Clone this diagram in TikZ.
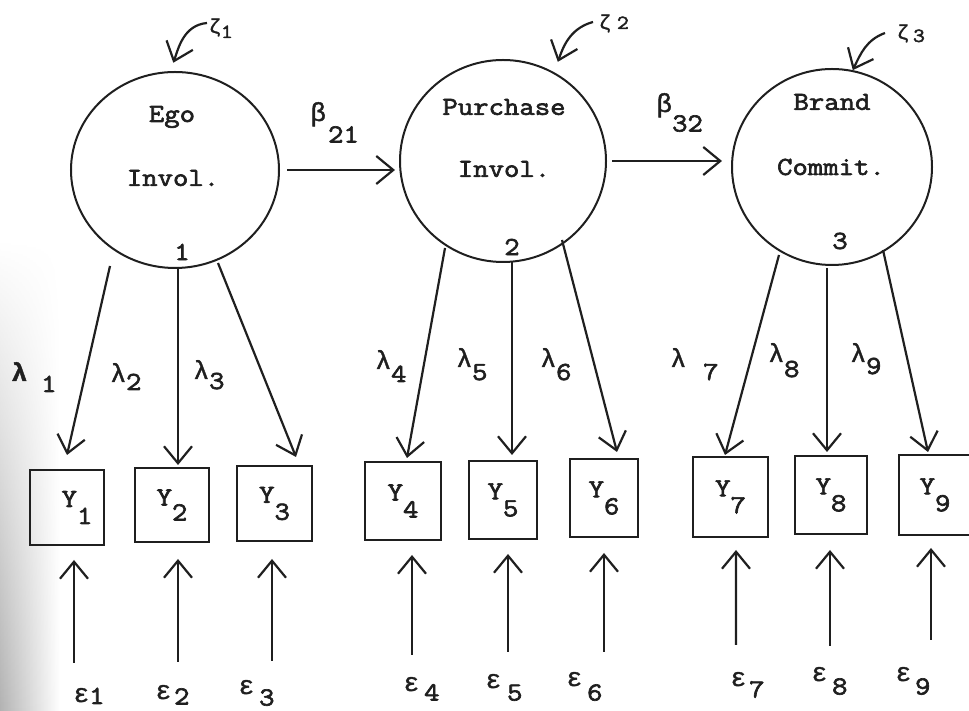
\documentclass[tikz,border=0pt]{standalone}
\usepackage{fontspec}
\setmainfont{Latin Modern Mono}[FakeStretch=1.15, FakeBold=2.5]
\newfontfamily\greekfont{Liberation Mono}[FakeBold=1.5]
\usetikzlibrary{arrows.meta,calc,shapes.geometric,fadings}
\newcommand\subdrop[2]{\raisebox{-#1bp}{#2}}
\newcommand\glam{{\greekfont λ}}
\newcommand\geps{{\greekfont ε}}
\newcommand\gbet{{\greekfont β}}
\newcommand\gzet{{\greekfont ζ}}
\begin{document}
\begin{tikzpicture}[x=1bp,y=1bp,
  every node/.style={inner sep=0pt, outer sep=0pt, text=black!88,
    font=\fontsize{26bp}{30bp}\selectfont},
  latent/.style={ellipse, draw=black!88, line width=2bp},
  manifest/.style={rectangle, draw=black!88, line width=2.4bp},
  arr/.style={draw=black!88, line width=2.2bp,
    -{Straight Barb[length=17bp,width=28bp]}},
  lbl/.style={anchor=base west},
  small/.style={anchor=base west, font=\fontsize{20bp}{24bp}\selectfont},
]
\useasboundingbox (0,0) rectangle (969,711);

% scanner shadow along the left margin
\shade[left color=black!30, right color=white, path fading=north]
  (0,0) rectangle (60,470);

% latent variables
\node[latent, minimum width=208bp, minimum height=196bp] (c1) at (175,541) {};
\node[latent, minimum width=206bp, minimum height=202bp] (c2) at (503,550) {};
\node[latent, minimum width=200bp, minimum height=196bp] (c3) at (832,544) {};

\node (ego)  at (172,594) {Ego};
\node (inv1) at (173,533) {Invol.};
\node (n1)   at (182,459) {1};
\node (pur)  at (504,604) {Purchase};
\node (inv2) at (504,542) {Invol.};
\node (n2)   at (512,464) {2};
\node (bra)  at (832,609) {Brand};
\node (com)  at (831,544) {Commit.};
\node (n3)   at (840,470) {3};

% indicators
\node[manifest, minimum width=74bp, minimum height=75bp] (y1) at (67,203.5) {\hspace*{20bp}Y\subdrop{17}{1}};
\node[manifest, minimum width=74bp, minimum height=74bp] (y2) at (172,206) {Y\subdrop{15}{2}};
\node[manifest, minimum width=75bp, minimum height=75bp] (y3) at (274.5,207.5) {Y\subdrop{17}{3}};
\node[manifest, minimum width=76bp, minimum height=78bp] (y4) at (403,210) {Y\subdrop{17}{4}};
\node[manifest, minimum width=68bp, minimum height=78bp] (y5) at (503,211) {Y\subdrop{17}{5}};
\node[manifest, minimum width=68bp, minimum height=78bp] (y6) at (604,213) {Y\subdrop{17}{6}};
\node[manifest, minimum width=75bp, minimum height=80bp] (y7) at (730.5,214) {Y\subdrop{17}{7}};
\node[manifest, minimum width=72bp, minimum height=78bp] (y8) at (831,216) {Y\subdrop{17}{8}};
\node[manifest, minimum width=72bp, minimum height=80bp] (y9) at (935,216) {Y\subdrop{17}{9}};

% disturbances
\coordinate (z1) at (207,688);
\coordinate (z2) at (593,689);
\coordinate (z3) at (885,678);
\draw[arr, shorten >=10bp] (z1) to[out=185,in=70] (c1.93);
\draw[arr, shorten >=12bp] (z2) to[out=195,in=70] (c2.60);
\draw[arr, shorten >=1bp]  (z3) to[out=200,in=65] (c3.78);
\node[small] (zl1) at (209,678) {\gzet\subdrop{5}{1}};
\node[small] (zl2) at (599,682) {\gzet\kern6bp 2};
\node[small] (zl3) at (897,672) {\gzet\kern4bp\subdrop{3}{3}};

% structural paths
\draw[arr, shorten <=8bp, shorten >=5bp] (c1.east) -- (c1.east -| c2.west);
\draw[arr, shorten <=6bp, shorten >=10bp] (c2.east) -- (c2.east -| c3.west);
\node[lbl] (b21) at (310.5,590) {\gbet\kern2bp\subdrop{21.5}{21}};
\node[lbl] (b32) at (656.5,599) {\gbet\subdrop{19.5}{32}};

% loadings
\draw[arr] ($(c1)+(-65,-96)$) -- ($(y1.north)+(0,15)$);
\draw[arr] ($(c1)+(3,-97)$)   -- ($(y2.north)+(6,3)$);
\draw[arr] ($(c1)+(43,-93)$)  -- ($(y3.north)+(21.5,9)$);
\draw[arr] ($(c2)+(-58,-87)$) -- ($(y4.north)+(4,4)$);
\draw[arr] ($(c2)+(9,-101)$)  -- ($(y5.north)+(9,6)$);
\draw[arr] ($(c2)+(59,-79)$)  -- ($(y6.north)+(13,7)$);
\draw[arr] ($(c3)+(-53,-88)$) -- ($(y7.north)+(-5.5,2)$);
\draw[arr] ($(c3)+(-5,-101)$) -- ($(y8.north)+(-4,4)$);
\draw[arr] ($(c3)+(51,-83)$)  -- ($(y9.north)+(-7,3)$);

\node[lbl] (l1) at (11.5,330)  {{\greekfont\bfseries λ}\kern14bp\subdrop{11}{1}};
\node[lbl] (l2) at (110.5,329) {\glam\subdrop{8}{2}};
\node[lbl] (l3) at (193.5,332) {\glam\subdrop{10}{3}};
\node[lbl] (l4) at (375.5,342) {\glam\subdrop{13}{4}};
\node[lbl] (l5) at (456.5,344) {\glam\subdrop{13}{5}};
\node[lbl] (l6) at (540.5,344) {\glam\subdrop{13}{6}};
\node[lbl] (l7) at (670.5,344) {\glam\kern17bp\subdrop{13}{7}};
\node[lbl] (l8) at (768.5,349) {\glam\subdrop{15}{8}};
\node[lbl] (l9) at (850.5,349) {\glam\subdrop{12}{9}};

% measurement errors
\coordinate (s1) at (74,48);
\coordinate (s2) at (178,49);
\coordinate (s3) at (272,50);
\coordinate (s4) at (412,56);
\coordinate (s5) at (508,59);
\coordinate (s6) at (604,59);
\coordinate (s7) at (736,66);
\coordinate (s8) at (830,65);
\coordinate (s9) at (931,71);
\draw[arr] (s1) -- ($(y1.south)+(7,-15)$);
\draw[arr] (s2) -- ($(y2.south)+(6,-17)$);
\draw[arr] (s3) -- ($(y3.south)+(-2.5,-18)$);
\draw[arr] (s4) -- ($(y4.south)+(9,-15)$);
\draw[arr] (s5) -- ($(y5.south)+(5,-15)$);
\draw[arr] (s6) -- ($(y6.south)+(0,-16)$);
\draw[arr] (s7) -- ($(y7.south)+(5.5,-13)$);
\draw[arr] (s8) -- ($(y8.south)+(-1,-16)$);
\draw[arr] (s9) -- ($(y9.south)+(-4,-13)$);

\node[lbl] (e1) at (73.5,9)  {\geps\subdrop{2}{1}};
\node[lbl] (e2) at (155.5,12) {\geps\kern3bp\subdrop{5.5}{2}};
\node[lbl] (e3) at (238.5,17) {\geps\kern5bp\subdrop{11.5}{3}};
\node[lbl] (e4) at (403.5,20) {\geps\kern5bp\subdrop{9.5}{4}};
\node[lbl] (e5) at (485.5,23) {\geps\kern6bp\subdrop{12.5}{5}};
\node[lbl] (e6) at (566.5,25) {\geps\kern5bp\subdrop{14.5}{6}};
\node[lbl] (e7) at (730.5,25) {\geps\kern3bp\subdrop{11.5}{7}};
\node[lbl] (e8) at (811.5,30) {\geps\kern5bp\subdrop{13.5}{8}};
\node[lbl] (e9) at (895.5,30) {\geps\kern4bp\subdrop{13.5}{9}};
\end{tikzpicture}
\end{document}
